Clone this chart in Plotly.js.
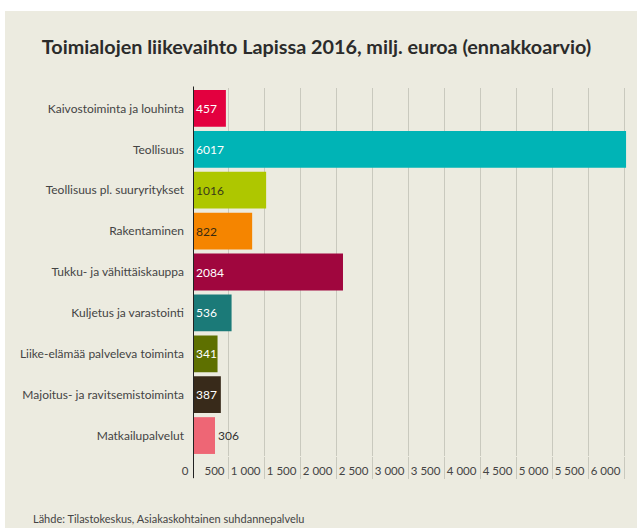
<!DOCTYPE html>
<html><head><meta charset="utf-8">
<script src="https://cdn.plot.ly/plotly-3.0.1.min.js"></script>
<style>html,body{margin:0;padding:0;background:#ffffff;}#chart{position:absolute;left:5px;top:11px;width:632px;height:517px;}</style>
</head><body><div id="chart"></div>
<script>
const categories = ["Kaivostoiminta ja louhinta","Teollisuus","Teollisuus pl. suuryritykset","Rakentaminen","Tukku- ja vähittäiskauppa","Kuljetus ja varastointi","Liike-elämää palveleva toiminta","Majoitus- ja ravitsemistoiminta","Matkailupalvelut"];
const values = [457, 6017, 1016, 822, 2084, 536, 341, 387, 306];
const barColors = ["#E3003F","#00B4B6","#AEC700","#F58500","#A0063E","#1B7A78","#5E7000","#382A1A","#EE6675"];
const textColors = ["#ffffff","#ffffff","#3a3a1a","#3a2a10","#ffffff","#ffffff","#ffffff","#ffffff","#333333"];
const textPositions = ["inside","inside","inside","inside","inside","inside","inside","inside","outside"];
const tickVals = [0,500,1000,1500,2000,2500,3000,3500,4000,4500,5000,5500,6000];
const tickText = ["0","500","1 000","1 500","2 000","2 500","3 000","3 500","4 000","4 500","5 000","5 500","6 000"];
const titleText = "Toimialojen liikevaihto Lapissa 2016, milj. euroa (ennakkoarvio)";
const sourceText = "Lähde: Tilastokeskus, Asiakaskohtainen suhdannepalvelu";

const FONT = "Lato, 'Open Sans', sans-serif";
const trace = {
  type: "bar", orientation: "h",
  y: categories, x: values,
  marker: {color: barColors, line: {width: 0}},
  text: values.map(String),
  textposition: textPositions,
  insidetextanchor: "start",
  textangle: 0,
  constraintext: "none",
  cliponaxis: false,
  textfont: {family: FONT, size: 12, color: textColors},
  outsidetextfont: {family: FONT, size: 12, color: "#333333"},
  hoverinfo: "none"
};
const layout = {
  width: 632, height: 517,
  margin: {l: 188, r: 10, t: 77, b: 72},
  paper_bgcolor: "#ECEBE0", plot_bgcolor: "#ECEBE0",
  bargap: 0.1,
  showlegend: false,
  font: {family: FONT, color: "#444444"},
  title: {text: titleText, font: {family: FONT, size: 19.8, color: "#2b2b2b", weight: "bold"},
          x: 0.493, xanchor: "center", y: 1 - 36/517, yref: "container", yanchor: "middle"},
  xaxis: {range: [0, 6030], tickvals: tickVals, ticktext: tickText, tickangle: 0,
          showgrid: true, gridcolor: "#C9C9BE", gridwidth: 1, zeroline: false,
          ticks: "outside", ticklen: 22, tickcolor: "#C9C9BE", tickwidth: 1,
          ticklabelposition: "outside left", ticklabelstandoff: 4, ticklabelshift: -4,
          tickfont: {family: FONT, size: 11.5, color: "#444444"}, fixedrange: true},
  yaxis: {autorange: "reversed", showgrid: false, zeroline: false, ticks: "",
          ticklabelstandoff: 8,
          tickfont: {family: FONT, size: 12, color: "#444444"}, fixedrange: true},
  shapes: [{type: "line", xref: "x", yref: "paper", x0: tickVals[0], x1: tickVals[0], y0: -0.06, y1: 1.004,
            line: {color: "#222222", width: 2}}],
  annotations: [{text: sourceText, xref: "paper", yref: "paper", x: -0.3733, y: -0.1685,
                 xanchor: "left", yanchor: "middle", showarrow: false,
                 font: {family: FONT, size: 11, color: "#444444"}}]
};
Plotly.newPlot("chart", [trace], layout, {displayModeBar: false, staticPlot: true});
</script></body></html>
